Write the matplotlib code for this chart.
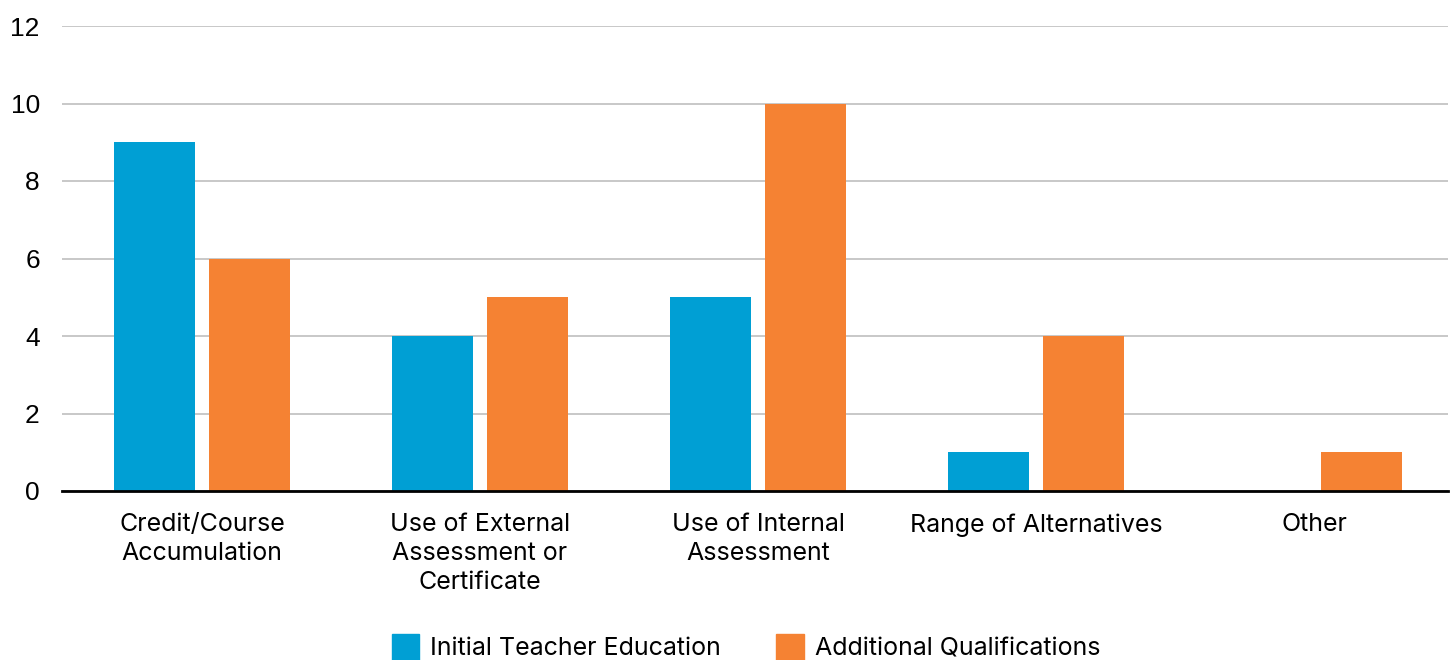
import matplotlib
matplotlib.use("Agg")
import matplotlib.pyplot as plt
import numpy as np
from matplotlib.patches import Patch

categories = ["Credit/Course\nAccumulation", "Use of External\nAssessment or\nCertificate",
              "Use of Internal\nAssessment", "Range of Alternatives", "Other"]
ite = [9, 4, 5, 1, 0]
aq = [6, 5, 10, 4, 1]
series_names = ["Initial Teacher Education", "Additional Qualifications"]
yticks = [0, 2, 4, 6, 8, 10, 12]

blue = "#009FD4"
orange = "#F58233"

plt.rcParams['font.family'] = ['Liberation Sans', 'DejaVu Sans']

fig = plt.figure(figsize=(14.53, 6.6), dpi=100)
ax = fig.add_axes([62/1453, 1-491/660, (1448-62)/1453, (491-26)/660])

x = np.arange(len(categories))
w = 0.291
off = 0.171
ax.bar(x - off, ite, width=w, color=blue, zorder=3)
ax.bar(x + off, aq, width=w, color=orange, zorder=3)

ax.set_xlim(-0.5036, 4.482)
ax.set_ylim(0, 12)
ax.set_yticks(yticks)
ax.set_xticks(x)
ax.set_xticklabels(categories, fontsize=18, linespacing=1.33, va='top', family=['Inter', 'DejaVu Sans'])
ax.tick_params(axis='y', labelsize=19, length=0, pad=16)
ax.tick_params(axis='x', length=0, pad=16)
ax.yaxis.grid(True, color="#BFBFBF", linewidth=1.2, zorder=0)
for s in ["top", "right", "left"]:
    ax.spines[s].set_visible(False)
ax.spines["bottom"].set_color("black")
ax.spines["bottom"].set_linewidth(2)
ax.spines["bottom"].set_zorder(4)

handles = [Patch(color=blue), Patch(color=orange)]
fig.legend(handles, series_names, loc='center', bbox_to_anchor=(746/1453, 1-647/660),
           ncol=2, frameon=False, prop={'family': ['Inter', 'DejaVu Sans'], 'size': 18},
           handlelength=1.1, handleheight=1.2,
           handletextpad=0.45, columnspacing=2.2)

fig.savefig("out.png", dpi=100)
